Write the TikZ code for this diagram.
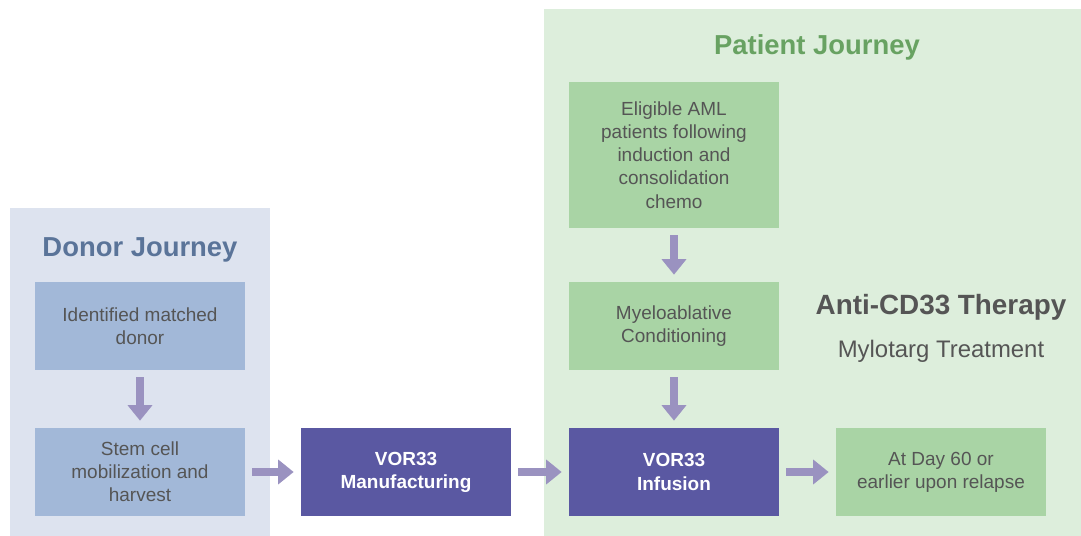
\documentclass[tikz,border=0pt]{standalone}
\usepackage{fontspec}
\setmainfont{Liberation Sans}
\usepackage{tikz}
\usetikzlibrary{arrows.meta, positioning}

\definecolor{donorbg}{HTML}{DDE3EF}
\definecolor{donorbox}{HTML}{A2B8D8}
\definecolor{donortitle}{HTML}{5A7499}
\definecolor{patientbg}{HTML}{DDEEDC}
\definecolor{patientbox}{HTML}{A9D4A5}
\definecolor{patienttitle}{HTML}{68A262}
\definecolor{vorbox}{HTML}{5A58A2}
\definecolor{boxtext}{HTML}{555555}
\definecolor{arrowcol}{HTML}{9A92C0}

\tikzset{
	stepbox/.style = {fill=#1, text=boxtext, align=center, font=\fontsize{13.5}{16.5}\selectfont,
		minimum width=5.25cm, minimum height=2.2cm, inner sep=0pt},
	vorstep/.style = {fill=vorbox, text=white, align=center, font=\bfseries\fontsize{13.5}{16.5}\selectfont,
		minimum width=5.25cm, minimum height=2.2cm, inner sep=0pt},
	flow/.style = {draw=arrowcol, line width=6pt, shorten <=5pt, shorten >=5pt,
		-{Triangle[width=17pt, length=11pt]}},
}

\begin{document}
\begin{tikzpicture}[x=0.025cm, y=-0.025cm]
	\useasboundingbox (0,0) rectangle (1081,536);

% background panels
	\fill[donorbg] (10,208) rectangle (270,536);
	\fill[patientbg] (544,9) rectangle (1081,536);

% titles
	\node[text=donortitle, font=\bfseries\fontsize{19.5}{22}\selectfont] (donortitle) at (140,250) {Donor Journey};
	\node[text=patienttitle, font=\bfseries\fontsize{19.5}{22}\selectfont] (patienttitle) at (817,47) {Patient Journey};
	\node[text=boxtext, font=\bfseries\fontsize{19.8}{22}\selectfont] (therapy) at (941,307) {Anti-CD33 Therapy};
	\node[text=boxtext, font=\fontsize{17}{20}\selectfont] (mylotarg) at (941,351) {Mylotarg Treatment};

% donor steps
	\node[stepbox=donorbox] (donor) at (140,326) {Identified matched\\donor};
	\node[stepbox=donorbox] (harvest) at (140,472) {Stem cell\\mobilization and\\harvest};

% manufacturing and infusion
	\node[vorstep] (manuf) at (406,472) {VOR33\\Manufacturing};
	\node[vorstep] (infusion) at (674,472) {VOR33\\Infusion};

% patient steps
	\node[stepbox=patientbox, minimum height=3.65cm] (eligible) at (674,155) {Eligible AML\\patients following\\induction and\\consolidation\\chemo};
	\node[stepbox=patientbox] (conditioning) at (674,326) {Myeloablative\\Conditioning};
	\node[stepbox=patientbox] (day60) at (941,472) {At Day 60 or\\earlier upon relapse};

% arrows
	\draw[flow] (donor) -- (harvest);
	\draw[flow] (harvest) -- (manuf);
	\draw[flow] (manuf) -- (infusion);
	\draw[flow] (infusion) -- (day60);
	\draw[flow] (eligible) -- (conditioning);
	\draw[flow] (conditioning) -- (infusion);

\end{tikzpicture}
\end{document}
